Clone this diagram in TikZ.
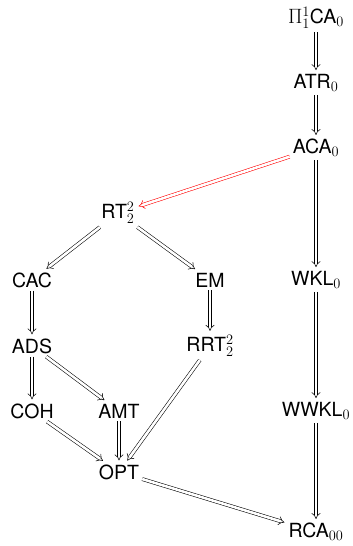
\documentclass[tikz,border=0pt]{standalone}
\usepackage{fontspec}
\setmainfont{TeX Gyre Heros}
\usetikzlibrary{arrows.meta}
\begin{document}
\begin{tikzpicture}[x=1pt,y=-1pt,
  sys/.style={inner sep=3pt, font=\fontsize{19.5}{22}\selectfont},
  impl/.style={draw=black, double, double distance=2.6pt, line width=0.55pt, -{Implies[length=6pt,width=11pt]}, shorten >=1pt},
  redimpl/.style={impl, draw=red}]
  \useasboundingbox (0,0) rectangle (353,546);

  \node[sys] (pi)   at (316,18)  {$\Pi^1_1$CA$_0$};
  \node[sys] (atr)  at (316,83)  {ATR$_0$};
  \node[sys] (aca)  at (316,148) {ACA$_0$};
  \node[sys] (rt)   at (118,213) {RT$^2_2$};
  \node[sys] (cac)  at (32,280)  {CAC};
  \node[sys] (em)   at (210,280) {EM};
  \node[sys] (wkl)  at (316,280) {WKL$_0$};
  \node[sys] (ads)  at (32,346)  {ADS};
  \node[sys] (rrt)  at (210,346) {RRT$^2_2$};
  \node[sys] (coh)  at (32,411)  {COH};
  \node[sys] (amt)  at (119,411) {AMT};
  \node[sys] (wwkl) at (316,411) {WWKL$_0$};
  \node[sys] (opt)  at (119,472) {OPT};
  \node[sys] (rca)  at (316,532) {RCA$_{00}$};

  \draw[impl] (pi) -- (atr);
  \draw[impl] (atr) -- (aca);
  \draw[redimpl] (aca) -- (rt);
  \draw[impl] (aca) -- (wkl);
  \draw[impl] (rt) -- (cac);
  \draw[impl] (rt) -- (em);
  \draw[impl] (cac) -- (ads);
  \draw[impl] (em) -- (rrt);
  \draw[impl] (ads) -- (coh);
  \draw[impl] (ads) -- (amt);
  \draw[impl] (wkl) -- (wwkl);
  \draw[impl] (coh) -- (opt);
  \draw[impl] (amt) -- (opt);
  \draw[impl] (rrt) -- (opt);
  \draw[impl] (opt) -- (rca);
  \draw[impl] (wwkl) -- (rca);
\end{tikzpicture}
\end{document}
